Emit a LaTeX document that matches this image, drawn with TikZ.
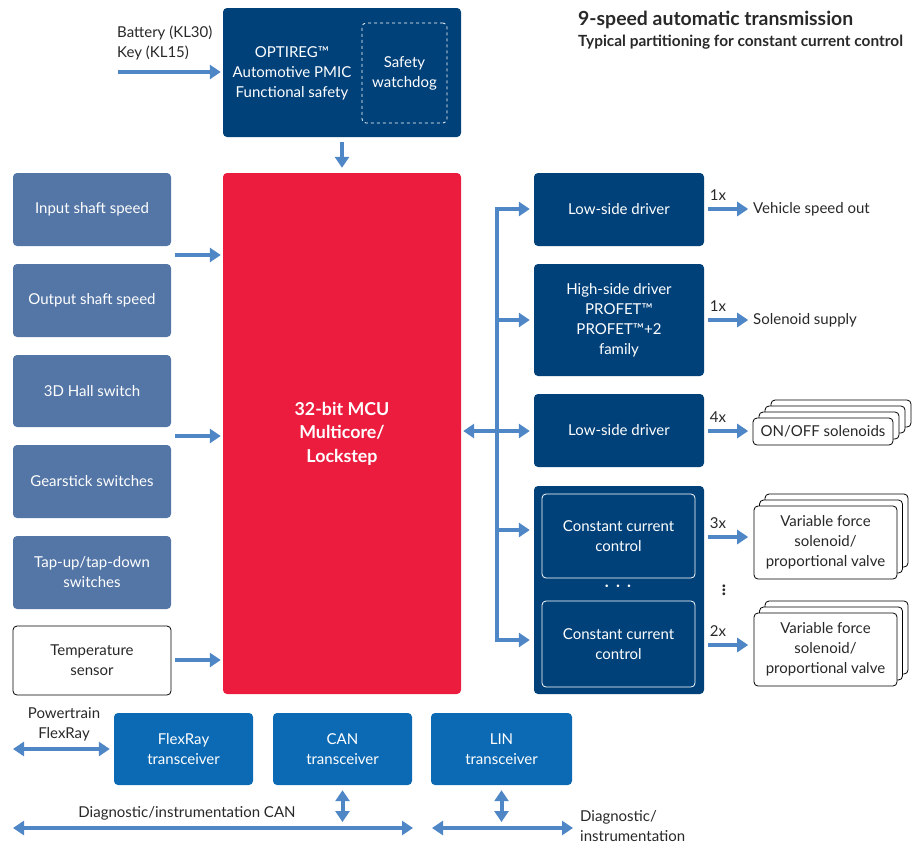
\documentclass[tikz,border=0pt]{standalone}
\usepackage{fontspec}
\setmainfont{Lato}
\usetikzlibrary{arrows.meta, positioning, calc}

\definecolor{ifxdark}{RGB}{0,65,122}
\definecolor{ifxsteel}{RGB}{84,118,166}
\definecolor{ifxmid}{RGB}{12,106,180}
\definecolor{ifxred}{RGB}{235,28,62}
\definecolor{ifxarrow}{RGB}{79,134,198}
\definecolor{ifxtext}{RGB}{40,40,40}

\tikzset{
  base/.style={rounded corners=4pt, align=center, inner sep=2pt, font=\fontsize{15}{20}\selectfont},
  darkbox/.style={base, fill=ifxdark, text=white},
  sensorbox/.style={base, fill=ifxsteel, text=white, minimum width=158pt, minimum height=73pt},
  xcvrbox/.style={base, fill=ifxmid, text=white, minimum width=139pt, minimum height=72pt},
  outbox/.style={base, draw=black, fill=white, text=ifxtext, line width=0.8pt},
  lbl/.style={font=\fontsize{15}{20}\selectfont, text=ifxtext, inner sep=0pt},
  bluearrow/.style={draw=ifxarrow, line width=4pt, -{Triangle[length=11pt,width=14pt]}},
  bluedouble/.style={draw=ifxarrow, line width=4pt, {Triangle[length=11pt,width=14pt]}-{Triangle[length=11pt,width=14pt]}},
}

\begin{document}
\begin{tikzpicture}[x=1pt, y=-1pt]
    \useasboundingbox (0,0) rectangle (912,846);

    % Title
    \node[anchor=west, inner sep=0pt, text=ifxtext, font=\fontsize{19.4}{22}\selectfont\bfseries] (title) at (578,20) {9-speed automatic transmission};
    \node[anchor=west, inner sep=0pt, text=ifxtext, font=\fontsize{15.4}{16}\selectfont\bfseries] (subtitle) at (578,42) {Typical partitioning for constant current control};

    % Power supply
    \node[darkbox, minimum width=238pt, minimum height=129pt] (pmic) at (342,72.5) {};
    \node[lbl, text=white, align=center] (pmictxt) at (292,73) {OPTIREG™\\Automotive PMIC\\Functional safety};
    \node[base, draw=white, dashed, line width=0.8pt, text=white, minimum width=85pt, minimum height=100pt] (wdog) at (404.5,73) {Safety\\watchdog};
    \node[lbl, anchor=west, align=left] (batt) at (117,43) {Battery (KL30)\\Key (KL15)};
    \coordinate (batin) at (118,72);
    \draw[bluearrow, shorten >=2pt] (batin) -- (batin -| pmic.west);

    % Central MCU
    \node[base, fill=ifxred, text=white, minimum width=238pt, minimum height=521pt, font=\fontsize{17.8}{23.5}\selectfont\bfseries] (mcu) at (342,433.5) {32-bit MCU\\Multicore/\\Lockstep};
    \draw[bluearrow, shorten <=5pt, shorten >=5pt] (pmic.south) -- (mcu.north);

    % Sensor inputs
    \node[sensorbox] (inshaft) at (92,209.5) {Input shaft speed};
    \node[sensorbox] (outshaft) at (92,300.5) {Output shaft speed};
    \node[sensorbox, minimum height=72pt] (hall) at (92,391) {3D Hall switch};
    \node[sensorbox] (gear) at (92,481.5) {Gearstick switches};
    \node[sensorbox] (tap) at (92,572.5) {Tap-up/tap-down\\switches};
    \node[outbox, minimum width=158pt, minimum height=69pt] (temp) at (92,660.5) {Temperature\\sensor};
    \foreach \y/\name in {255/in1, 436/in2, 660/in3} {
        \coordinate (\name) at (175,\y);
        \draw[bluearrow, shorten >=2pt] (\name) -- (\name -| mcu.west);
    }

    % Drivers
    \node[darkbox, minimum width=170pt, minimum height=73pt] (lsd1) at (619,209.5) {Low-side driver};
    \node[darkbox, minimum width=170pt, minimum height=112pt] (hsd) at (619,320) {High-side driver\\PROFET™\\PROFET™+2\\family};
    \node[darkbox, minimum width=170pt, minimum height=73pt] (lsd2) at (619,430.5) {Low-side driver};
    \node[darkbox, minimum width=170pt, minimum height=208pt] (ccgroup) at (619,590) {};
    \node[darkbox, draw=white, line width=0.8pt, minimum width=153pt, minimum height=84pt] (cc1) at (618.5,536) {Constant current\\control};
    \node[darkbox, draw=white, line width=0.8pt, minimum width=153pt, minimum height=86pt] (cc2) at (618.5,644) {Constant current\\control};
    \node[text=white, inner sep=0pt, font=\fontsize{24}{24}\selectfont] (ccdots) at (618,587) {$\cdots$};

    % Distribution bus
    \coordinate (bustop) at (497,209);
    \coordinate (busbot) at (497,640);
    \draw[bluedouble, shorten <=4pt, shorten >=4pt] (busbot -| ccgroup.west) -- (busbot) -- (bustop) -- (bustop -| lsd1.west);
    \foreach \y/\name in {320/hsd, 530/ccgroup} {
        \draw[bluearrow, shorten >=4pt] (497,\y) -- (\name.west |- 0,\y);
    }
    \draw[bluedouble, shorten <=2pt, shorten >=4pt] (mcu.east |- 0,431) -- (lsd2.west |- 0,431);

    % Loads
    \node[lbl, anchor=west] (vso) at (753,209) {Vehicle speed out};
    \node[lbl, anchor=west] (supply) at (753,320) {Solenoid supply};
    \coordinate (onoffpos) at (823,431.5);
    \foreach \k in {3,2,1} {
        \node[outbox, minimum width=140pt, minimum height=27pt] at ($(onoffpos)+(6*\k,-6*\k)$) {};
    }
    \node[outbox, minimum width=140pt, minimum height=27pt] (onoff) at (onoffpos) {ON/OFF solenoids};
    \foreach \n/\y in {vfs1/542.5, vfs2/649.5} {
        \foreach \k in {2,1} {
            \node[outbox, minimum width=143pt, minimum height=73pt] at ($(825.5,\y)+(5.5*\k,-6*\k)$) {};
        }
        \node[outbox, minimum width=143pt, minimum height=73pt] (\n) at (825.5,\y) {Variable force\\solenoid/\\proportional valve};
    }
    \node[text=ifxtext, inner sep=0pt, font=\fontsize{22}{22}\selectfont] (vdots) at (724,587) {$\vdots$};

    % Output arrows
    \foreach \src/\y/\cnt in {lsd1/209/1x, hsd/320/1x, lsd2/431/4x, ccgroup/537/3x, ccgroup/645/2x} {
        \draw[bluearrow] ([xshift=4pt]\src.east |- 0,\y) -- ++(40,0);
        \node[lbl] at (718,\y-14) {\cnt};
    }

    % Transceivers
    \node[xcvrbox] (flexray) at (183.5,749) {FlexRay\\transceiver};
    \node[xcvrbox] (can) at (342.5,749) {CAN\\transceiver};
    \node[xcvrbox, minimum width=141pt] (lin) at (501.5,749) {LIN\\transceiver};
    \node[lbl, align=center] (ptfr) at (64,724.5) {Powertrain\\FlexRay};
    \coordinate (frbus) at (13,749);
    \draw[bluedouble, shorten >=4pt] (frbus) -- (frbus -| flexray.west);

    % Vehicle buses
    \coordinate (canl) at (13,828);
    \coordinate (canr) at (413,828);
    \coordinate (linl) at (432,828);
    \coordinate (linr) at (573,828);
    \draw[bluedouble] (canl) -- (canr);
    \draw[bluedouble] (linl) -- (linr);
    \draw[bluedouble, shorten <=5pt] (can.south) -- (can.south |- 0,822);
    \draw[bluedouble, shorten <=5pt] (lin.south) -- (lin.south |- 0,822);
    \node[lbl] (diagcan) at (187,813) {Diagnostic/instrumentation CAN};
    \node[lbl, anchor=west, align=left] (diaglin) at (580,826.5) {Diagnostic/\\instrumentation};
\end{tikzpicture}
\end{document}
